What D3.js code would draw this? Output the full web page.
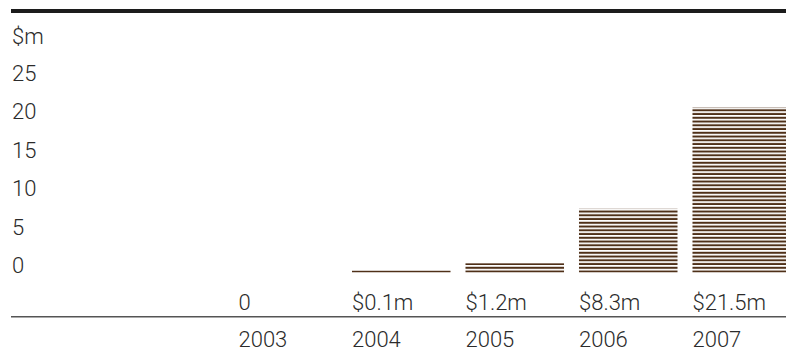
<!DOCTYPE html>
<html>
<head>
<meta charset="utf-8">
<script src="https://cdn.jsdelivr.net/npm/d3@7"></script>
<style>
  html, body { margin: 0; padding: 0; background: #fff; }
  svg { display: block; }
  text { font-family: Roboto, "Liberation Sans", sans-serif; font-weight: 300; fill: #2b2b2b; }
</style>
</head>
<body>
<svg id="chart" width="786" height="359"></svg>
<script>
// Annual amounts, $ millions
const years = ["2003", "2004", "2005", "2006", "2007"];
const amounts = [0, 0.1, 1.2, 8.3, 21.5];
const valueLabels = ["0", "$0.1m", "$1.2m", "$8.3m", "$21.5m"];
const yTicks = [0, 5, 10, 15, 20, 25];
const unitLabel = "$m";

const svg = d3.select("#chart");
const W = 786;
const fontSize = 22;

const x = d3.scaleBand()
  .domain(years)
  .range([238.5, 791])
  .paddingInner(0.132)
  .paddingOuter(0)
  .align(0);

const y = d3.scaleLinear().domain([0, 25]).range([272.5, 80.5]);

// Horizontal stripe fill, anchored on the baseline
const period = 3.75, stripe = 2;
const defs = svg.append("defs");
const pat = defs.append("pattern")
  .attr("id", "stripes")
  .attr("patternUnits", "userSpaceOnUse")
  .attr("x", 0)
  .attr("y", y(0) - period * Math.ceil(y(0) / period))
  .attr("width", 10)
  .attr("height", period);
pat.append("rect")
  .attr("x", 0).attr("y", period - stripe)
  .attr("width", 10).attr("height", stripe)
  .attr("fill", "#4f3018");

// Heavy rule at the top
svg.append("rect")
  .attr("x", 11).attr("y", 9)
  .attr("width", W - 11).attr("height", 4)
  .attr("fill", "#1c1c1c");

// Unit label and value axis
svg.append("text")
  .attr("x", 12).attr("y", 44)
  .attr("font-size", fontSize)
  .text(unitLabel);

const yAxis = d3.axisLeft(y).tickValues(yTicks).tickSize(0).tickPadding(0).tickFormat(d3.format("d"));
const gy = svg.append("g").attr("transform", "translate(12,0)").call(yAxis);
gy.select(".domain").remove();
gy.selectAll(".tick text")
  .attr("text-anchor", "start")
  .attr("x", 0)
  .attr("dy", 0)
  .attr("font-size", fontSize)
  .attr("font-family", null)
  .attr("fill", null);

// Bars
const data = years.map((yr, i) => ({ year: yr, value: amounts[i], label: valueLabels[i] }));
svg.append("g").selectAll("rect")
  .data(data.filter(d => d.value > 0))
  .join("rect")
  .attr("x", d => x(d.year))
  .attr("width", x.bandwidth())
  .attr("y", d => y(d.value) - Math.max(0, stripe - (y(0) - y(d.value))))
  .attr("height", d => Math.max(stripe, y(0) - y(d.value)))
  .attr("fill", "url(#stripes)");

// Value labels under the bars
svg.append("g").selectAll("text")
  .data(data)
  .join("text")
  .attr("x", d => x(d.year))
  .attr("y", 310)
  .attr("font-size", fontSize)
  .text(d => d.label);

// Thin rule between values and years
svg.append("rect")
  .attr("x", 11).attr("y", 316)
  .attr("width", W - 11).attr("height", 1.5)
  .attr("fill", "#555");

// Year axis
const xAxis = d3.axisBottom(x).tickSize(0).tickPadding(0);
const gx = svg.append("g").attr("transform", "translate(0,347)").call(xAxis);
gx.select(".domain").remove();
gx.selectAll(".tick").attr("transform", d => `translate(${x(d)},0)`);
gx.selectAll(".tick text")
  .attr("text-anchor", "start")
  .attr("y", 0)
  .attr("dy", 0)
  .attr("font-size", fontSize)
  .attr("font-family", null)
  .attr("fill", null);
</script>
</body>
</html>
